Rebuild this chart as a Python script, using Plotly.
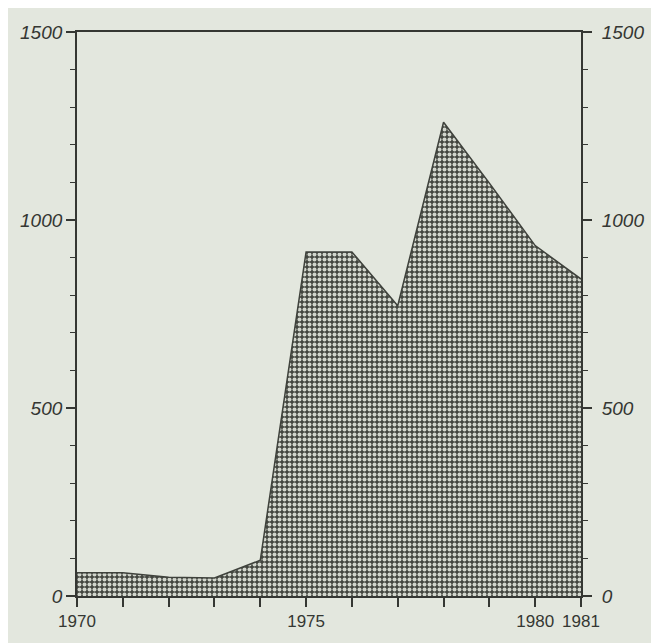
import plotly.graph_objects as go

years = [1970, 1971, 1972, 1973, 1974, 1975, 1976, 1977, 1978, 1979, 1980, 1981]
values = [62, 62, 50, 48, 95, 915, 915, 772, 1260, 1098, 932, 843]
x_tick_vals = list(range(1970, 1982))
x_tick_text = ["1970", "", "", "", "", "1975", "", "", "", "", "1980", "1981"]
y_tick_vals = [0, 500, 1000, 1500]
y_tick_text = ["0", "500", "1000", "1500"]

bg = "#e3e7de"
ink = "#353733"
font = dict(family="Liberation Sans, Arial, sans-serif", size=18, color=ink)

fig = go.Figure()
fig.add_trace(go.Scatter(
    x=years, y=values, mode="lines", fill="tozeroy",
    line=dict(color="#3f423c", width=1.5),
    fillpattern=dict(shape=".", bgcolor="#434640", fgcolor="#d2d6cd",
                     size=5, solidity=0.5, fillmode="replace"),
    hoverinfo="skip", showlegend=False,
))
fig.add_trace(go.Scatter(x=years, y=values, yaxis="y2", mode="lines",
                         line=dict(width=0), opacity=0, showlegend=False,
                         hoverinfo="skip"))

axis_common = dict(ticks="outside", ticklen=9, tickwidth=1.5, tickcolor=ink,
                   showline=True, linecolor=ink, linewidth=1.8,
                   showgrid=False, zeroline=False)

fig.update_layout(
    width=651, height=635,
    margin=dict(l=67, r=78, t=24, b=46),
    paper_bgcolor=bg, plot_bgcolor=bg,
    font=font,
    xaxis=dict(range=[1970, 1981], tickvals=x_tick_vals, ticktext=x_tick_text,
               mirror=True, tickfont=dict(size=17), **axis_common),
    yaxis=dict(range=[0, 1500], tickvals=y_tick_vals, ticktext=y_tick_text,
               minor=dict(dtick=100, ticks="outside", ticklen=5, tickwidth=1.2, tickcolor=ink),
               tickfont=dict(size=19, style="italic"), **axis_common),
    yaxis2=dict(range=[0, 1500], overlaying="y", side="right",
                tickvals=y_tick_vals, ticktext=y_tick_text,
                minor=dict(dtick=100, ticks="outside", ticklen=5, tickwidth=1.2, tickcolor=ink),
                ticklabelstandoff=6,
                tickfont=dict(size=19, style="italic"), **axis_common),
)

fig.write_html("out.html")
